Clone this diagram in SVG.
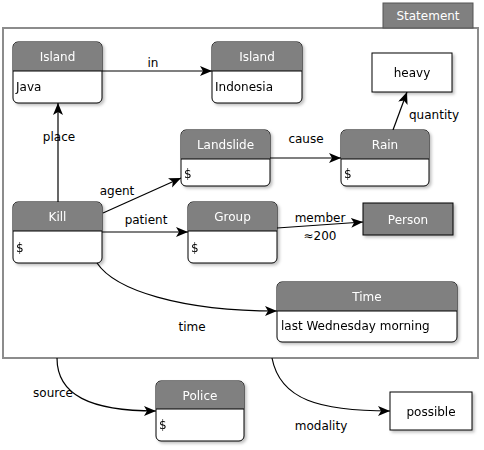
<svg xmlns="http://www.w3.org/2000/svg" width="484" height="450" viewBox="0 0 484 450">
<style>
text{font-family:"DejaVu Sans","Noto Sans",sans-serif;font-size:12px}
.hdr{fill:#808080}
.ht{fill:#fff;text-anchor:middle}
.bt{fill:#000}
.box{fill:#fff;stroke:#000;stroke-width:1}
.sep{stroke:#000;stroke-width:1}
.edge{fill:none;stroke:#000;stroke-width:1.2}
.lbl{fill:#000;text-anchor:middle}
</style>
<defs>
<marker id="arr" markerUnits="userSpaceOnUse" markerWidth="14" markerHeight="12" refX="12" refY="5" orient="auto">
<path d="M0,0 L12,5 L0,10 L3,5 Z" fill="#000"/>
</marker>
<filter id="sh" x="-10%" y="-10%" width="130%" height="140%">
<feDropShadow dx="2" dy="2" stdDeviation="1.5" flood-color="#000" flood-opacity="0.25"/>
</filter>
</defs>
<rect width="484" height="450" fill="#fff"/>
<g id="statement">
<rect x="3" y="28" width="475" height="330" fill="none" stroke="#8c8c8c" stroke-width="2"/>
<rect x="383" y="3" width="90" height="25" fill="#808080" stroke="#555" stroke-width="1"/>
<text x="428" y="20" class="ht">Statement</text>
</g>
<g id="connectors">
<line x1="102" y1="71" x2="212" y2="71" class="edge" marker-end="url(#arr)"/>
<text x="153" y="67" class="lbl">in</text>
<line x1="58" y1="202" x2="58" y2="103" class="edge" marker-end="url(#arr)"/>
<text x="59" y="141" class="lbl">place</text>
<line x1="103" y1="213" x2="181" y2="178" class="edge" marker-end="url(#arr)"/>
<text x="117" y="195" class="lbl">agent</text>
<line x1="102" y1="232" x2="188" y2="232" class="edge" marker-end="url(#arr)"/>
<text x="146" y="224" class="lbl">patient</text>
<line x1="270" y1="158" x2="341" y2="158" class="edge" marker-end="url(#arr)"/>
<text x="306" y="143" class="lbl">cause</text>
<line x1="277" y1="228" x2="363" y2="222" class="edge" marker-end="url(#arr)"/>
<text x="320" y="222" class="lbl">member</text>
<text x="320" y="240" class="lbl">≈200</text>
<line x1="393" y1="130" x2="407" y2="92" class="edge" marker-end="url(#arr)"/>
<text x="409" y="119" class="bt">quantity</text>
<path d="M97,263 C115,290 180,311 277,311" class="edge" marker-end="url(#arr)"/>
<text x="192" y="331" class="lbl">time</text>
<path d="M57,358 C57,395 90,411 156,411" class="edge" marker-end="url(#arr)"/>
<text x="53" y="397" class="lbl">source</text>
<path d="M272,358 C280,400 320,411 390,411" class="edge" marker-end="url(#arr)"/>
<text x="321" y="430" class="lbl">modality</text>
</g>
<g id="island-java" filter="url(#sh)">
<rect x="13" y="42" width="89" height="61" rx="5" class="box"/>
<path d="M13.5,71 V47 Q13.5,42.5 18,42.5 H97 Q101.5,42.5 101.5,47 V71 Z" class="hdr"/>
<line x1="13" y1="71" x2="102" y2="71" class="sep"/>
<text x="57.5" y="61" class="ht">Island</text>
<text x="16" y="91" class="bt">Java</text>
</g>
<g id="island-indonesia" filter="url(#sh)">
<rect x="212" y="42" width="90" height="61" rx="5" class="box"/>
<path d="M212.5,71 V47 Q212.5,42.5 217,42.5 H297 Q301.5,42.5 301.5,47 V71 Z" class="hdr"/>
<line x1="212" y1="71" x2="302" y2="71" class="sep"/>
<text x="257" y="61" class="ht">Island</text>
<text x="215" y="91" class="bt">Indonesia</text>
</g>
<g id="heavy" filter="url(#sh)">
<rect x="372" y="53" width="80" height="39" class="box"/>
<text x="412" y="77" class="lbl">heavy</text>
</g>
<g id="landslide" filter="url(#sh)">
<rect x="181" y="130" width="89" height="56" rx="5" class="box"/>
<path d="M181.5,159 V135 Q181.5,130.5 186,130.5 H265 Q269.5,130.5 269.5,135 V159 Z" class="hdr"/>
<line x1="181" y1="159" x2="270" y2="159" class="sep"/>
<text x="225.5" y="149" class="ht">Landslide</text>
<text x="184" y="178" class="bt">$</text>
</g>
<g id="rain" filter="url(#sh)">
<rect x="341" y="130" width="88" height="56" rx="5" class="box"/>
<path d="M341.5,159 V135 Q341.5,130.5 346,130.5 H424 Q428.5,130.5 428.5,135 V159 Z" class="hdr"/>
<line x1="341" y1="159" x2="429" y2="159" class="sep"/>
<text x="385" y="149" class="ht">Rain</text>
<text x="344" y="178" class="bt">$</text>
</g>
<g id="kill" filter="url(#sh)">
<rect x="13" y="202" width="89" height="61" rx="5" class="box"/>
<path d="M13.5,231 V207 Q13.5,202.5 18,202.5 H97 Q101.5,202.5 101.5,207 V231 Z" class="hdr"/>
<line x1="13" y1="231" x2="102" y2="231" class="sep"/>
<text x="57.5" y="221" class="ht">Kill</text>
<text x="16" y="252" class="bt">$</text>
</g>
<g id="group" filter="url(#sh)">
<rect x="188" y="202" width="89" height="61" rx="5" class="box"/>
<path d="M188.5,231 V207 Q188.5,202.5 193,202.5 H272 Q276.5,202.5 276.5,207 V231 Z" class="hdr"/>
<line x1="188" y1="231" x2="277" y2="231" class="sep"/>
<text x="232.5" y="221" class="ht">Group</text>
<text x="191" y="252" class="bt">$</text>
</g>
<g id="person" filter="url(#sh)">
<rect x="363" y="203" width="90" height="32" fill="#808080" stroke="#000" stroke-width="1"/>
<text x="408" y="224" class="ht">Person</text>
</g>
<g id="time" filter="url(#sh)">
<rect x="277" y="282" width="180" height="60" rx="5" class="box"/>
<path d="M277.5,311 V287 Q277.5,282.5 282,282.5 H452 Q456.5,282.5 456.5,287 V311 Z" class="hdr"/>
<line x1="277" y1="311" x2="457" y2="311" class="sep"/>
<text x="367" y="301" class="ht">Time</text>
<text x="281" y="330" class="bt">last Wednesday morning</text>
</g>
<g id="police" filter="url(#sh)">
<rect x="156" y="381" width="88" height="60" rx="5" class="box"/>
<path d="M156.5,409 V386 Q156.5,381.5 161,381.5 H239 Q243.5,381.5 243.5,386 V409 Z" class="hdr"/>
<line x1="156" y1="409" x2="244" y2="409" class="sep"/>
<text x="200" y="400" class="ht">Police</text>
<text x="159" y="429" class="bt">$</text>
</g>
<g id="possible" filter="url(#sh)">
<rect x="390" y="392" width="82" height="38" class="box"/>
<text x="431" y="416" class="lbl">possible</text>
</g>
</svg>
